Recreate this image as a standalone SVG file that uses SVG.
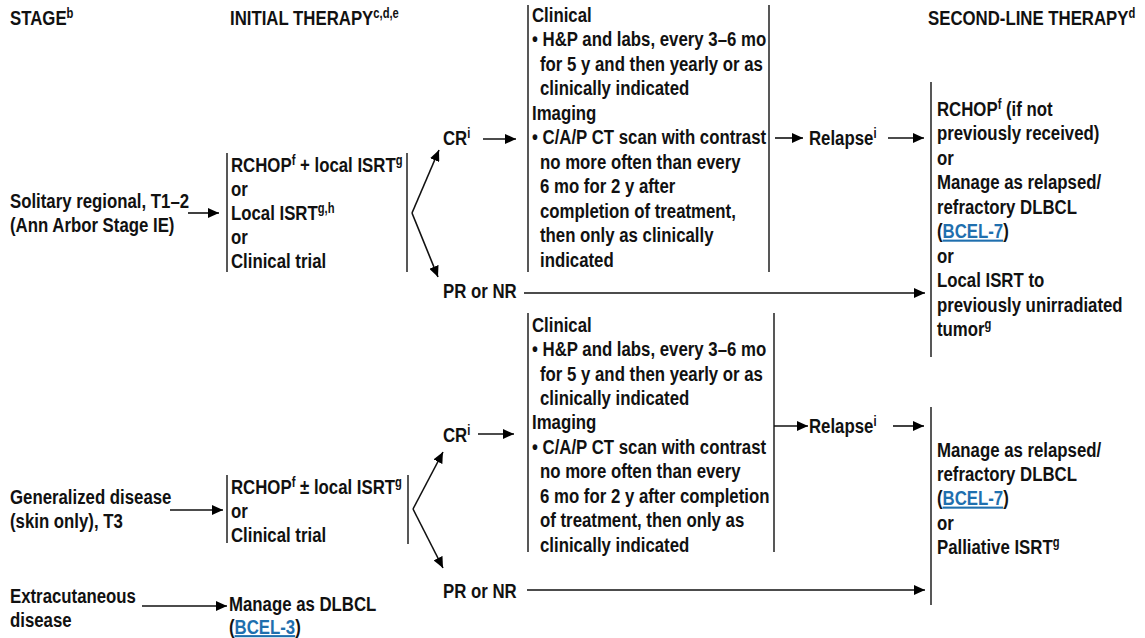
<svg xmlns="http://www.w3.org/2000/svg" width="1145" height="638" viewBox="0 0 1145 638">
<defs>
<marker id="ah" markerUnits="userSpaceOnUse" markerWidth="12" markerHeight="10" refX="11" refY="5" orient="auto">
<path d="M0,0 L11,5 L0,10 z" fill="#000"/>
</marker>
<style>
text{font-family:"Liberation Sans Narrow","Liberation Sans",Arial,sans-serif;font-weight:bold;font-size:21px;fill:#111}
.sup{font-size:14px}
.link{fill:#1f6fae;text-decoration:underline}
.ln{stroke:#111;stroke-width:1.4;fill:none}
.ar{stroke:#111;stroke-width:1.6;fill:none;marker-end:url(#ah)}
</style>
</defs>
<rect width="1145" height="638" fill="#fff"/>

<g id="headers">
<text transform="translate(10,0) scale(0.8,1)" y="25">STAGE<tspan class="sup" dy="-7">b</tspan></text>
<text transform="translate(230,0) scale(0.8,1)" y="25">INITIAL THERAPY<tspan class="sup" dy="-7">c,d,e</tspan></text>
<text transform="translate(928,0) scale(0.8,1)" y="25">SECOND-LINE THERAPY<tspan class="sup" dy="-7">d</tspan></text>
</g>

<g id="stage1">
<text transform="translate(10,0) scale(0.8,1)" y="208">Solitary regional, T1–2</text>
<text transform="translate(10,0) scale(0.8,1)" y="232">(Ann Arbor Stage IE)</text>
</g>

<g id="initial1">
<line class="ln" x1="227" y1="153" x2="227" y2="272"/>
<line class="ln" x1="407" y1="153" x2="407" y2="272"/>
<text transform="translate(231,0) scale(0.8,1)" y="172">RCHOP<tspan class="sup" dy="-7">f</tspan><tspan dy="7"> + local ISRT</tspan><tspan class="sup" dy="-7">g</tspan></text>
<text transform="translate(231,0) scale(0.8,1)" y="196">or</text>
<text transform="translate(231,0) scale(0.8,1)" y="220">Local ISRT<tspan class="sup" dy="-7">g,h</tspan></text>
<text transform="translate(231,0) scale(0.8,1)" y="244">or</text>
<text transform="translate(231,0) scale(0.8,1)" y="268">Clinical trial</text>
</g>

<g id="cr1"><text transform="translate(443,0) scale(0.8,1)" y="145">CR<tspan class="sup" dy="-7">i</tspan></text></g>
<g id="prnr1"><text transform="translate(443,0) scale(0.8,1)" y="298">PR or NR</text></g>

<g id="followup1">
<line class="ln" x1="528" y1="5" x2="528" y2="272"/>
<line class="ln" x1="769" y1="5" x2="769" y2="272"/>
<text transform="translate(532,0) scale(0.8,1)" y="22">Clinical</text>
<text transform="translate(532,0) scale(0.8,1)" y="46.5">• H&amp;P and labs, every 3–6 mo</text>
<text transform="translate(540,0) scale(0.8,1)" y="71">for 5 y and then yearly or as</text>
<text transform="translate(540,0) scale(0.8,1)" y="95.5">clinically indicated</text>
<text transform="translate(532,0) scale(0.8,1)" y="120">Imaging</text>
<text transform="translate(532,0) scale(0.8,1)" y="144.5">• C/A/P CT scan with contrast</text>
<text transform="translate(540,0) scale(0.8,1)" y="169">no more often than every</text>
<text transform="translate(540,0) scale(0.8,1)" y="193.5">6 mo for 2 y after</text>
<text transform="translate(540,0) scale(0.8,1)" y="218">completion of treatment,</text>
<text transform="translate(540,0) scale(0.8,1)" y="242.5">then only as clinically</text>
<text transform="translate(540,0) scale(0.8,1)" y="267">indicated</text>
</g>

<g id="relapse1"><text transform="translate(809,0) scale(0.8,1)" y="145">Relapse<tspan class="sup" dy="-7">i</tspan></text></g>

<g id="second1">
<line class="ln" x1="931" y1="82" x2="931" y2="357"/>
<text transform="translate(937,0) scale(0.8,1)" y="116">RCHOP<tspan class="sup" dy="-7">f</tspan><tspan dy="7"> (if not</tspan></text>
<text transform="translate(937,0) scale(0.8,1)" y="140.5">previously received)</text>
<text transform="translate(937,0) scale(0.8,1)" y="165">or</text>
<text transform="translate(937,0) scale(0.8,1)" y="189.5">Manage as relapsed/</text>
<text transform="translate(937,0) scale(0.8,1)" y="214">refractory DLBCL</text>
<text transform="translate(937,0) scale(0.8,1)" y="238.5">(<tspan class="link">BCEL-7</tspan>)</text>
<text transform="translate(937,0) scale(0.8,1)" y="263">or</text>
<text transform="translate(937,0) scale(0.8,1)" y="287.5">Local ISRT to</text>
<text transform="translate(937,0) scale(0.8,1)" y="312">previously unirradiated</text>
<text transform="translate(937,0) scale(0.8,1)" y="336.5">tumor<tspan class="sup" dy="-7">g</tspan></text>
</g>

<g id="stage2">
<text transform="translate(10,0) scale(0.8,1)" y="504">Generalized disease</text>
<text transform="translate(10,0) scale(0.8,1)" y="528">(skin only), T3</text>
</g>

<g id="initial2">
<line class="ln" x1="227" y1="475" x2="227" y2="543"/>
<line class="ln" x1="408" y1="475" x2="408" y2="544"/>
<text transform="translate(231,0) scale(0.8,1)" y="494">RCHOP<tspan class="sup" dy="-7">f</tspan><tspan dy="7"> ± local ISRT</tspan><tspan class="sup" dy="-7">g</tspan></text>
<text transform="translate(231,0) scale(0.8,1)" y="518">or</text>
<text transform="translate(231,0) scale(0.8,1)" y="542">Clinical trial</text>
</g>

<g id="cr2"><text transform="translate(443,0) scale(0.8,1)" y="442">CR<tspan class="sup" dy="-7">i</tspan></text></g>
<g id="prnr2"><text transform="translate(443,0) scale(0.8,1)" y="598">PR or NR</text></g>

<g id="followup2">
<line class="ln" x1="528" y1="313" x2="528" y2="552"/>
<line class="ln" x1="774" y1="313" x2="774" y2="552"/>
<text transform="translate(532,0) scale(0.8,1)" y="332">Clinical</text>
<text transform="translate(532,0) scale(0.8,1)" y="356.5">• H&amp;P and labs, every 3–6 mo</text>
<text transform="translate(540,0) scale(0.8,1)" y="381">for 5 y and then yearly or as</text>
<text transform="translate(540,0) scale(0.8,1)" y="405">clinically indicated</text>
<text transform="translate(532,0) scale(0.8,1)" y="429.5">Imaging</text>
<text transform="translate(532,0) scale(0.8,1)" y="454">• C/A/P CT scan with contrast</text>
<text transform="translate(540,0) scale(0.8,1)" y="478.5">no more often than every</text>
<text transform="translate(540,0) scale(0.8,1)" y="503">6 mo for 2 y after completion</text>
<text transform="translate(540,0) scale(0.8,1)" y="527.5">of treatment, then only as</text>
<text transform="translate(540,0) scale(0.8,1)" y="552">clinically indicated</text>
</g>

<g id="relapse2"><text transform="translate(809,0) scale(0.8,1)" y="433">Relapse<tspan class="sup" dy="-7">i</tspan></text></g>

<g id="second2">
<line class="ln" x1="931" y1="407" x2="931" y2="605"/>
<text transform="translate(937,0) scale(0.8,1)" y="457">Manage as relapsed/</text>
<text transform="translate(937,0) scale(0.8,1)" y="481">refractory DLBCL</text>
<text transform="translate(937,0) scale(0.8,1)" y="505.5">(<tspan class="link">BCEL-7</tspan>)</text>
<text transform="translate(937,0) scale(0.8,1)" y="530">or</text>
<text transform="translate(937,0) scale(0.8,1)" y="554.5">Palliative ISRT<tspan class="sup" dy="-7">g</tspan></text>
</g>

<g id="stage3">
<text transform="translate(10,0) scale(0.8,1)" y="603">Extracutaneous</text>
<text transform="translate(10,0) scale(0.8,1)" y="627">disease</text>
</g>

<g id="initial3">
<text transform="translate(229,0) scale(0.8,1)" y="611">Manage as DLBCL</text>
<text transform="translate(229,0) scale(0.8,1)" y="634">(<tspan class="link">BCEL-3</tspan>)</text>
</g>

<g id="connectors">
<line class="ar" x1="188" y1="213" x2="219" y2="213"/>
<line class="ar" x1="412" y1="213" x2="439" y2="150"/>
<line class="ar" x1="412" y1="213" x2="438" y2="277"/>
<line class="ar" x1="483" y1="139" x2="516" y2="139"/>
<line class="ar" x1="524" y1="293" x2="925" y2="293"/>
<line class="ar" x1="775" y1="138" x2="803" y2="138"/>
<line class="ar" x1="888" y1="138" x2="924" y2="138"/>

<line class="ar" x1="170" y1="510" x2="223" y2="510"/>
<line class="ar" x1="413" y1="509" x2="443" y2="452"/>
<line class="ar" x1="413" y1="509" x2="443" y2="568"/>
<line class="ar" x1="478" y1="434" x2="514" y2="434"/>
<line class="ar" x1="527" y1="590" x2="925" y2="590"/>
<line class="ar" x1="774" y1="426" x2="808" y2="426"/>
<line class="ar" x1="893" y1="426" x2="924" y2="426"/>

<line class="ar" x1="142" y1="606" x2="227" y2="606"/>
</g>
</svg>
